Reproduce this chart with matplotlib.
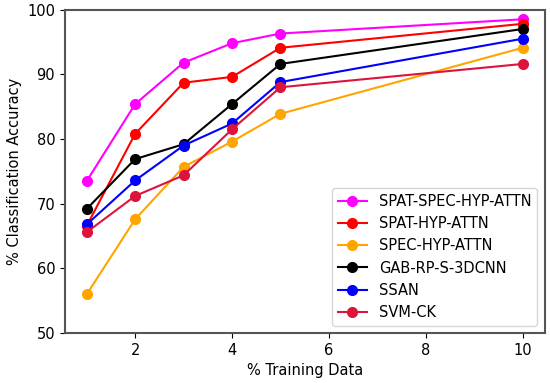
import matplotlib
matplotlib.use('Agg')
import matplotlib.pyplot as plt

plt.rcParams['font.size'] = 10.5

training = [1, 2, 3, 4, 5, 10]

spat_spec = [73.5, 85.4, 91.8, 94.8, 96.3, 98.5]
spat_hyp = [66.6, 80.8, 88.7, 89.6, 94.1, 97.8]
spec_hyp = [56.0, 67.6, 75.7, 79.6, 83.9, 94.1]
gab_rp = [69.2, 76.9, 79.2, 85.4, 91.6, 97.0]
ssan = [66.8, 73.6, 79.0, 82.4, 88.8, 95.5]
svm_ck = [65.6, 71.2, 74.4, 81.5, 88.0, 91.6]

labels = ['SPAT-SPEC-HYP-ATTN', 'SPAT-HYP-ATTN', 'SPEC-HYP-ATTN',
          'GAB-RP-S-3DCNN', 'SSAN', 'SVM-CK']
colors = ['magenta', 'red', 'orange', 'black', 'blue', 'crimson']

fig, ax = plt.subplots(figsize=(5.5, 3.83), dpi=100)
for series, label, color in zip([spat_spec, spat_hyp, spec_hyp, gab_rp, ssan, svm_ck], labels, colors):
    ax.plot(training, series, marker='o', color=color, label=label, markersize=7, linewidth=1.5)

ax.set_ylim(50, 100)
ax.set_xticks([2, 4, 6, 8, 10])
ax.set_xlabel('% Training Data')
ax.set_ylabel('% Classification Accuracy')
for s in ax.spines.values():
    s.set_color('#555555')
    s.set_linewidth(1.5)
ax.legend(loc='lower right')
plt.subplots_adjust(left=0.118, right=0.99, top=0.975, bottom=0.13)
plt.savefig('out.png')
